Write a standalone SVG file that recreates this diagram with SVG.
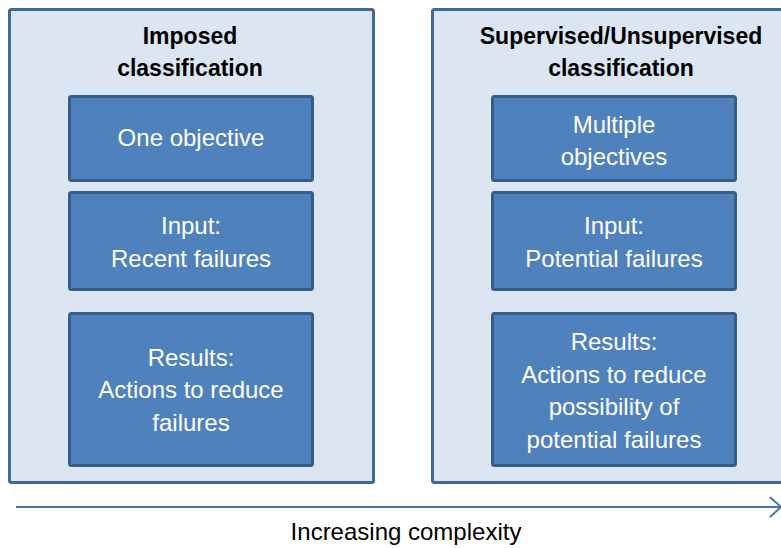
<svg xmlns="http://www.w3.org/2000/svg" width="781" height="548" viewBox="0 0 781 548">
  <style>
    .outer { fill: #dce6f2; stroke: #41699c; stroke-width: 3; }
    .inner { fill: #4f81bd; stroke: #385d8a; stroke-width: 3; }
    .title { font-family: "Liberation Sans", Arial, sans-serif; font-weight: bold; font-size: 23px; fill: #000; text-anchor: middle; }
    .label { font-family: "Liberation Sans", Arial, sans-serif; font-size: 24px; fill: #ffffff; text-anchor: middle; }
    .axis { font-family: "Liberation Sans", Arial, sans-serif; font-size: 24px; fill: #000; text-anchor: middle; }
    .conn { stroke: #4a72a8; stroke-width: 2; fill: none; }
  </style>
  <defs>
    <marker id="chev" markerWidth="14" markerHeight="22" refX="12" refY="11" orient="auto" markerUnits="userSpaceOnUse">
      <path d="M1,1 L12,11 L1,21" fill="none" stroke="#4a72a8" stroke-width="2"/>
    </marker>
  </defs>
  <rect width="781" height="548" fill="#ffffff"/>

  <g id="imposed">
    <rect class="outer" x="9.5" y="9.5" width="364" height="473" rx="2"/>
    <text class="title" x="190" y="44">Imposed</text>
    <text class="title" x="190" y="76">classification</text>
  </g>
  <g id="supervised">
    <rect class="outer" x="432.5" y="9.5" width="364" height="473" rx="2"/>
    <text class="title" x="621" y="44">Supervised/Unsupervised</text>
    <text class="title" x="621" y="76">classification</text>
  </g>

  <g id="one-objective">
    <rect class="inner" x="69.5" y="96.5" width="243" height="84" rx="2"/>
    <text class="label" x="191" y="146">One objective</text>
  </g>
  <g id="input-recent">
    <rect class="inner" x="69.5" y="192.5" width="243" height="97" rx="2"/>
    <text class="label" x="191" y="234">Input:</text>
    <text class="label" x="191" y="267">Recent failures</text>
  </g>
  <g id="results-left">
    <rect class="inner" x="69.5" y="313.5" width="243" height="152" rx="2"/>
    <text class="label" x="191" y="366">Results:</text>
    <text class="label" x="191" y="398">Actions to reduce</text>
    <text class="label" x="191" y="431">failures</text>
  </g>

  <g id="multiple-objectives">
    <rect class="inner" x="492.5" y="96.5" width="243" height="84" rx="2"/>
    <text class="label" x="614" y="133">Multiple</text>
    <text class="label" x="614" y="165">objectives</text>
  </g>
  <g id="input-potential">
    <rect class="inner" x="492.5" y="192.5" width="243" height="97" rx="2"/>
    <text class="label" x="614" y="234">Input:</text>
    <text class="label" x="614" y="267">Potential failures</text>
  </g>
  <g id="results-right">
    <rect class="inner" x="492.5" y="313.5" width="243" height="152" rx="2"/>
    <text class="label" x="614" y="350">Results:</text>
    <text class="label" x="614" y="383">Actions to reduce</text>
    <text class="label" x="614" y="415">possibility of</text>
    <text class="label" x="614" y="448">potential failures</text>
  </g>

  <g id="connectors">
    <line class="conn" x1="16" y1="507" x2="781" y2="507" marker-end="url(#chev)"/>
  </g>
  <g id="axis-label">
    <text class="axis" x="406" y="540">Increasing complexity</text>
  </g>
</svg>
